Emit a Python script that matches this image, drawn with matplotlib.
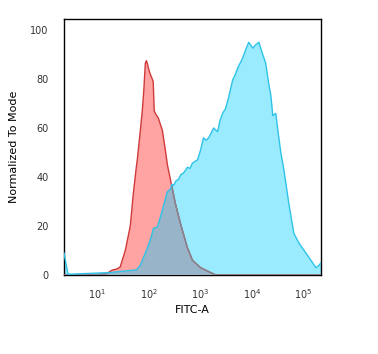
import matplotlib
matplotlib.use("Agg")
import matplotlib.pyplot as plt
from matplotlib.patches import Polygon
import numpy as np

# isotype control (red)
red_x = [2.3, 8, 15, 19.6, 24.5, 28, 35.1, 43.9, 50.1, 57.4, 60, 68.7, 75, 80,
         86, 90, 95, 100, 107, 117, 122, 128, 134, 154, 184, 210, 230, 263,
         330, 412, 564, 705, 1010, 1580, 2000, 218000]
red_y = [0, 0, 0.5, 2, 2.5, 3.3, 10, 20, 33, 44, 47, 59, 67, 75,
         86.5, 87.5, 86, 84, 82, 80, 79, 67, 66, 64, 59, 51, 45, 39,
         29, 21, 11, 6, 3, 1, 0, 0]

# stained sample (cyan)
cyan_x = [2.28, 2.73, 4.67, 17.9, 50, 57.4, 68.7, 89.7, 94, 110, 123, 147, 165,
          184, 210, 230, 263, 280, 301, 340, 377, 420, 471, 564, 630, 705, 883,
          1010, 1150, 1300, 1450, 1810, 2160, 2400, 2700, 3090, 3540, 4230,
          4800, 5300, 6620, 7570, 8670, 10400, 11900, 13600, 16200, 18500,
          21200, 23200, 25400, 29000, 31800, 36300, 41600, 52000, 65000,
          81500, 111000, 139000, 174000, 200000, 218000]
cyan_y = [9, 0.3, 0.5, 1, 2, 2, 4, 10, 11, 15, 19, 19.6, 23,
          26.5, 31, 34, 35, 37, 36.5, 38.5, 39, 41, 41.6, 44, 43.5, 45.7, 47,
          51, 56, 55, 56, 60, 58.5, 63, 66, 68, 72.6, 79.6,
          82, 84.5, 88.6, 92, 95, 92.6, 94, 95, 90, 86.5,
          78, 73.5, 65, 66, 59, 50, 43, 29, 17,
          13, 9, 6, 3, 4, 5]

xticks = [10, 100, 1000, 10000, 100000]
xticklabels = ["$10^1$", "$10^2$", "$10^3$", "$10^4$", "$10^5$"]
yticks = [0, 20, 40, 60, 80, 100]

fig = plt.figure(figsize=(3.78, 3.54), dpi=100)
ax = fig.add_axes([64 / 378, 1 - 275 / 354, 257 / 378, 256 / 354])
ax.set_xscale("log")
ax.set_xlim(2.28, 218000)
ax.set_ylim(0, 104.5)

cyan_poly = np.column_stack([np.concatenate([cyan_x, [cyan_x[-1], cyan_x[0]]]),
                             np.concatenate([cyan_y, [0, 0]])])
red_poly = np.column_stack([np.concatenate([red_x, [red_x[-1], red_x[0]]]),
                            np.concatenate([red_y, [0, 0]])])

cp = Polygon(cyan_poly, closed=True, facecolor="#99ebfd", edgecolor="none", zorder=1)
ax.add_patch(cp)
rp = Polygon(red_poly, closed=True, facecolor="#ffa3a3", edgecolor="none", zorder=2)
ax.add_patch(rp)

# overlap area: red drawn again, clipped to the cyan shape
op = Polygon(red_poly, closed=True, facecolor="#98b4c8", edgecolor="none", zorder=3)
ax.add_patch(op)
op.set_clip_path(Polygon(cyan_poly, closed=True, transform=ax.transData))

ax.plot(red_x, red_y, color="#d03a3a", lw=1.0, zorder=4)
ln, = ax.plot(red_x, red_y, color="#7e8a98", lw=1.0, zorder=5)
ln.set_clip_path(Polygon(cyan_poly, closed=True, transform=ax.transData))
ax.plot(cyan_x, cyan_y, color="#2fc3e8", lw=1.0, zorder=6)

ax.set_xticks(xticks)
ax.set_xticklabels(xticklabels)
ax.xaxis.set_minor_locator(matplotlib.ticker.NullLocator())
ax.set_yticks(yticks)
ax.tick_params(axis="both", length=0, labelsize=7, colors="#333333")
ax.tick_params(axis="y", pad=11)
ax.tick_params(axis="x", pad=9)
for s in ax.spines.values():
    s.set_linewidth(1.0)
    s.set_color("black")

ax.set_xlabel("FITC-A", fontsize=8, labelpad=3)
ax.set_ylabel("Normalized To Mode", fontsize=8, labelpad=8)

fig.savefig("out.png", dpi=100)
